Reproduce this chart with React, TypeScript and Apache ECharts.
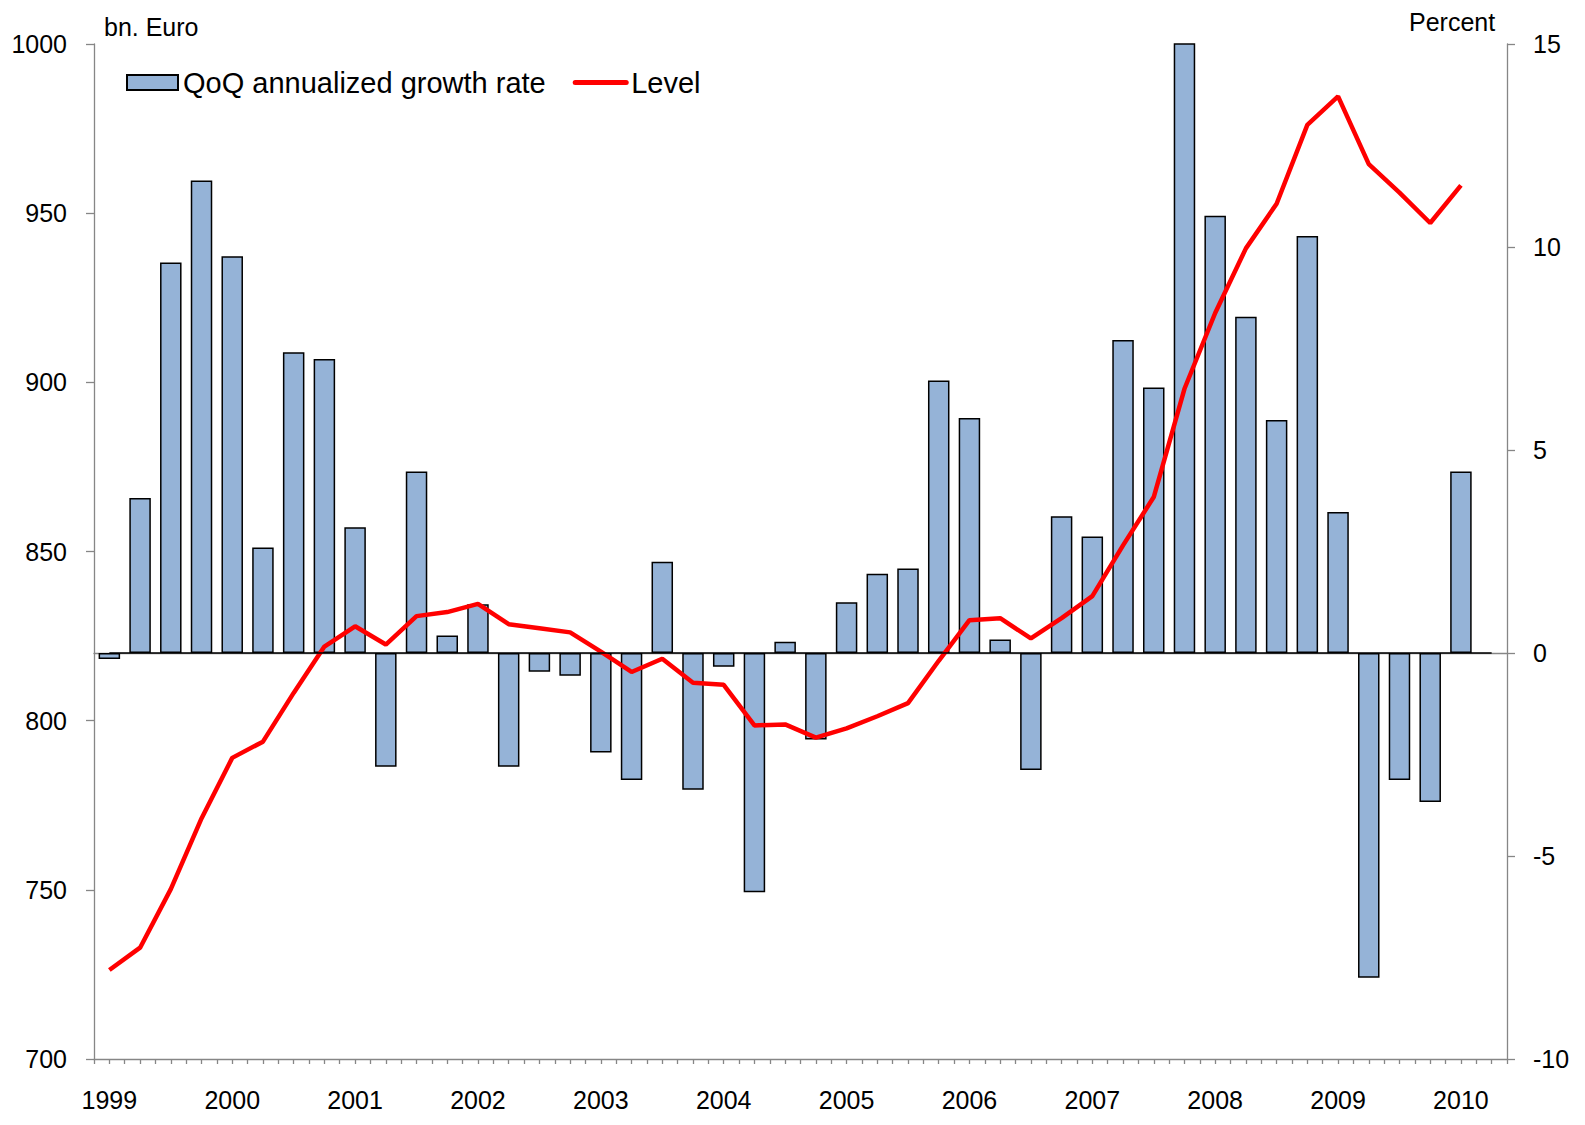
import React, { useEffect, useRef } from "react";
import * as echarts from "echarts";

const years = ["1999", "2000", "2001", "2002", "2003", "2004", "2005", "2006", "2007", "2008", "2009", "2010"];
const quarterNames = ["Q1", "Q2", "Q3", "Q4"];
// 1999Q1 .. 2010Q2 (last slot is empty in the reference)
const categories: string[] = years.flatMap((y) => quarterNames.map((q) => y + q)).slice(0, 46);

// QoQ annualized growth rate, percent (right axis)
const growth = [
  -0.15, 3.82, 9.62, 11.64,
  9.77, 2.6, 7.41, 7.24,
  3.1, -2.8, 4.47, 0.43,
  1.2, -2.8, -0.46, -0.56,
  -2.45, -3.13, 2.25, -3.37,
  -0.34, -5.89, 0.28, -2.13,
  1.25, 1.95, 2.08, 6.71,
  5.79, 0.33, -2.88, 3.37,
  2.87, 7.71, 6.54, 16.5,
  10.77, 8.28, 5.74, 10.27,
  3.47, -8.0, -3.13, -3.67,
  4.47,
];

// Level, bn. Euro (left axis)
const level = [
  726.3, 732.9, 750.2, 771.1,
  789.0, 793.8, 808.2, 821.9,
  827.9, 822.5, 830.9, 832.1,
  834.5, 828.5, 827.3, 826.1,
  820.4, 814.4, 818.3, 811.2,
  810.6, 798.6, 798.9, 795.0,
  797.7, 801.3, 805.2, 817.7,
  829.7, 830.3, 824.3, 830.3,
  836.8, 851.8, 866.1, 898.1,
  920.5, 939.6, 952.8, 976.1,
  984.5, 964.5, 956.1, 947.1,
  958.2,
];

const leftAxisName = "bn. Euro";
const rightAxisName = "Percent";
const barName = "QoQ annualized growth rate";
const lineName = "Level";

// half-quarter tick positions for the minor tick axis
const halfSlots: string[] = categories.flatMap((c) => [c + "a", c + "b"]);

const FONT = "'Liberation Sans', Arial, Helvetica, sans-serif";
const AXIS_GRAY = "#868686";

export default function App() {
  const ref = useRef<HTMLDivElement>(null);

  useEffect(() => {
    if (!ref.current) return;
    document.body.style.margin = "0";
    const chart = echarts.init(ref.current, undefined, { renderer: "svg" });
    const option: any = {
      animation: false,
      backgroundColor: "#ffffff",
      textStyle: { fontFamily: FONT },
      grid: { left: 94, right: 78, top: 44, bottom: 66, containLabel: false },
      legend: {
        left: 126,
        top: 68,
        padding: 0,
        itemWidth: 51,
        itemHeight: 15,
        itemGap: 27,
        textStyle: { fontFamily: FONT, fontSize: 29, color: "#000" },
        data: [
          { name: barName, icon: "rect" },
          {
            name: lineName,
            itemStyle: { opacity: 0 },
            lineStyle: { width: 5, color: "#FF0000", cap: "round" },
          },
        ],
      },
      graphic: [
        {
          type: "text",
          left: 104,
          top: 14,
          style: { text: leftAxisName, font: `25px ${FONT}`, fill: "#000" },
        },
        {
          type: "text",
          left: 1409,
          top: 9,
          style: { text: rightAxisName, font: `25px ${FONT}`, fill: "#000" },
        },
      ],
      xAxis: [
        {
          type: "category",
          data: categories,
          boundaryGap: true,
          position: "bottom",
          axisLine: { show: true, lineStyle: { color: AXIS_GRAY, width: 1.3 } },
          axisTick: { show: false },
          axisLabel: {
            interval: (index: number) => index % 4 === 0,
            formatter: (v: string) => v.slice(0, 4),
            fontFamily: FONT,
            fontSize: 25,
            color: "#000",
            margin: 28,
          },
          splitLine: { show: false },
        },
        {
          type: "category",
          data: halfSlots,
          boundaryGap: true,
          position: "bottom",
          axisLine: { show: true, lineStyle: { color: AXIS_GRAY, width: 1.3 } },
          axisTick: { show: true, interval: 0, length: 5, lineStyle: { color: AXIS_GRAY, width: 1.3 } },
          axisLabel: { show: false },
          splitLine: { show: false },
        },
      ],
      yAxis: [
        {
          type: "value",
          position: "left",
          min: 700,
          max: 1000,
          interval: 50,
          axisLine: { show: true, lineStyle: { color: AXIS_GRAY, width: 1.3 } },
          axisTick: { show: true, length: 8, lineStyle: { color: AXIS_GRAY, width: 1.3 } },
          axisLabel: {
            fontFamily: FONT,
            fontSize: 25,
            color: "#000",
            margin: 27,
            formatter: (v: number) => String(v),
          },
          splitLine: { show: false },
        },
        {
          type: "value",
          position: "right",
          min: -10,
          max: 15,
          interval: 5,
          axisLine: { show: true, lineStyle: { color: AXIS_GRAY, width: 1.3 } },
          axisTick: { show: true, length: 8, lineStyle: { color: AXIS_GRAY, width: 1.3 } },
          axisLabel: {
            fontFamily: FONT,
            fontSize: 25,
            color: "#000",
            margin: 26,
            formatter: (v: number) => String(v),
          },
          splitLine: { show: false },
        },
      ],
      series: [
        {
          name: barName,
          type: "bar",
          xAxisIndex: 0,
          yAxisIndex: 1,
          data: growth,
          barWidth: "70%",
          clip: true,
          itemStyle: { color: "#95B3D7", borderColor: "#000", borderWidth: 1.5 },
          markLine: {
            silent: true,
            symbol: "none",
            label: { show: false },
            lineStyle: { color: "#000", width: 1.5, type: "solid" },
            data: [[{ coord: [0, 0] }, { coord: [45, 0] }]],
          },
        },
        {
          name: lineName,
          type: "line",
          xAxisIndex: 0,
          yAxisIndex: 0,
          data: level,
          symbol: "none",
          lineStyle: { color: "#FF0000", width: 4.5 },
          itemStyle: { color: "#FF0000" },
        },
      ],
    };
    chart.setOption(option);
    return () => chart.dispose();
  }, []);

  return (
    <div
      ref={ref}
      style={{ position: "absolute", left: 0, top: 0, width: 1585, height: 1125 }}
    />
  );
}
